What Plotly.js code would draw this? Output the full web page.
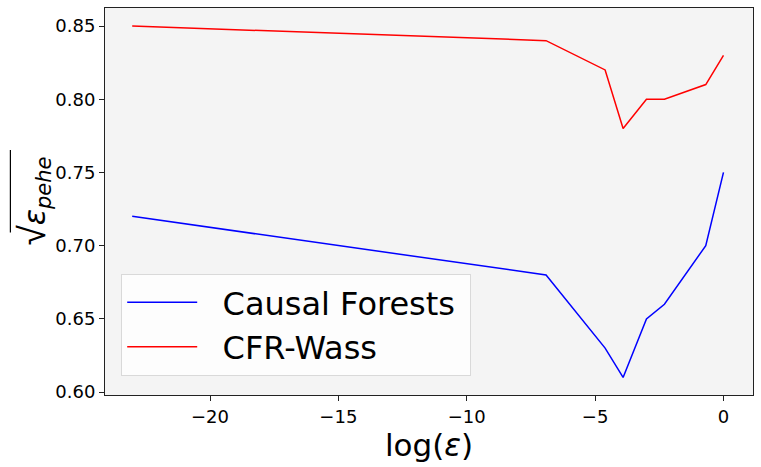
<!DOCTYPE html>
<html>
<head>
<meta charset="utf-8">
<script src="https://cdn.plot.ly/plotly-3.0.1.min.js"></script>
<style>html,body{margin:0;padding:0;background:#fff;}#chart{width:761px;height:467px;}</style>
</head>
<body>
<div id="chart"></div>
<script>
const logEps = [-23.03, -6.91, -4.61, -3.91, -3.00, -2.30, -0.69, 0.00];
const causalForests = [0.72, 0.68, 0.63, 0.61, 0.65, 0.66, 0.70, 0.75];
const cfrWass = [0.85, 0.84, 0.82, 0.78, 0.80, 0.80, 0.81, 0.83];
const seriesNames = ["Causal Forests", "CFR-Wass"];
const xTicks = [-20, -15, -10, -5, 0];
const yTicks = [0.60, 0.65, 0.70, 0.75, 0.80, 0.85];

const font = "DejaVu Sans, sans-serif";
const pad = "\u00a0\u00a0";
const traces = [
  {x: logEps, y: causalForests, name: pad + seriesNames[0] + "\u00a0", mode: "lines", line: {color: "#0000ff", width: 1.5}},
  {x: logEps, y: cfrWass, name: pad + seriesNames[1], mode: "lines", line: {color: "#ff0000", width: 1.5}}
];
const layout = {
  width: 761, height: 467,
  margin: {l: 105, r: 8, t: 8, b: 72},
  paper_bgcolor: "#ffffff",
  plot_bgcolor: "#f4f4f4",
  font: {family: font, color: "#000"},
  showlegend: true,
  legend: {
    x: 0.025, y: 0.313, xanchor: "left", yanchor: "top",
    bgcolor: "rgba(255,255,255,0.8)", bordercolor: "#d9d9d9", borderwidth: 1,
    font: {size: 32, family: font}, itemwidth: 70, tracegroupgap: 0
  },
  xaxis: {
    range: [-24.09, 1.15], tickvals: xTicks, ticktext: xTicks.map(v => v < 0 ? "\u2212" + Math.abs(v) : String(v)),
    showgrid: false, zeroline: false, showline: true, linecolor: "#222", linewidth: 1, mirror: true,
    ticks: "outside", ticklen: 5, tickcolor: "#222", tickfont: {size: 18, family: font},
    title: {text: "log(<i>ε</i>)", font: {size: 31, family: font}, standoff: 5}
  },
  yaxis: {
    range: [0.598, 0.8623], tickvals: yTicks, ticktext: yTicks.map(v => v.toFixed(2)),
    showgrid: false, zeroline: false, showline: true, linecolor: "#222", linewidth: 1, mirror: true,
    ticks: "outside", ticklen: 5, tickcolor: "#222", tickfont: {size: 18, family: font}
  },
  annotations: [{
    xref: "paper", yref: "paper", x: -0.111, y: 0.50, xanchor: "center", yanchor: "middle",
    text: "<span style='font-size:37px;font-weight:300'>√</span><i>ε</i><sub><i>pehe</i></sub>", textangle: -90, showarrow: false,
    font: {size: 30, family: font}
  }],
  shapes: [{
    type: "line", xref: "paper", yref: "paper", x0: -0.146, x1: -0.146, y0: 0.42, y1: 0.633,
    line: {color: "#000", width: 1.2}
  }]
};
Plotly.newPlot("chart", traces, layout, {displayModeBar: false, staticPlot: true});
</script>
</body>
</html>
